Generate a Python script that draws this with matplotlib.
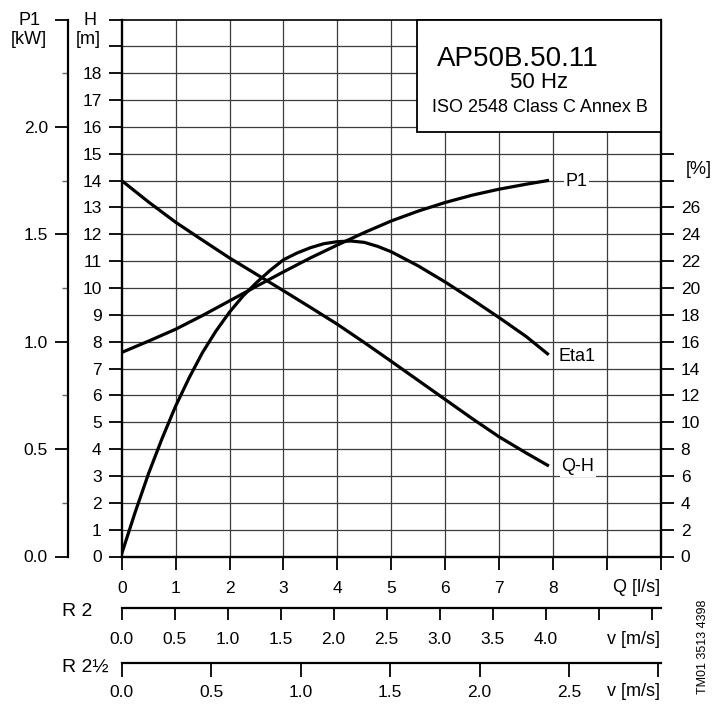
import numpy as np
import matplotlib
matplotlib.use("Agg")
from matplotlib import pyplot as plt
from matplotlib.patches import Rectangle

plt.rcParams['font.family'] = ['Liberation Sans', 'DejaVu Sans']

# Q-H curve, head in m
q_h = [0, 0.5, 1, 1.5, 2, 2.5, 3, 3.5, 4, 4.5, 5, 5.5, 6, 6.5, 7, 7.5, 7.9]
head = [14.0, 13.2, 12.45, 11.78, 11.12, 10.51, 9.9, 9.28, 8.65, 7.97, 7.27, 6.56, 5.85, 5.14, 4.46, 3.86, 3.4]

# P1 curve, kW
q_p = [0, 0.5, 1, 1.5, 2, 2.5, 3, 3.5, 4, 4.5, 5, 5.5, 6, 6.5, 7, 7.5, 7.9]
p1 = [0.95, 1.003, 1.058, 1.122, 1.19, 1.258, 1.325, 1.39, 1.45, 1.508, 1.562, 1.608, 1.648, 1.682, 1.71, 1.733, 1.75]

# Eta1 curve, %
q_e = [0, 0.25, 0.5, 0.75, 1, 1.25, 1.5, 1.75, 2, 2.25, 2.5, 2.75, 3, 3.25, 3.5, 3.75, 4, 4.25,
       4.5, 4.75, 5, 5.5, 6, 6.5, 7, 7.5, 7.9]
eta = [0.2, 3.3, 6.2, 8.8, 11.2, 13.3, 15.2, 16.8, 18.2, 19.4, 20.4, 21.3, 22.1, 22.6, 23.0, 23.3,
       23.45, 23.5, 23.4, 23.1, 22.7, 21.65, 20.45, 19.15, 17.8, 16.4, 15.1]

q_ticks = list(range(11))
q_labels = [str(i) for i in range(9)] + ['', '']
h_ticks = list(range(21))
h_labels = [str(i) for i in range(19)] + ['', '']
p_ticks = [0, 0.5, 1.0, 1.5, 2.0, 2.5]
p_labels = ['0.0', '0.5', '1.0', '1.5', '2.0', '']
p_minor = [0.25, 0.75, 1.25, 1.75, 2.25]
e_ticks = list(range(0, 31, 2))
e_labels = [str(i) for i in range(0, 27, 2)] + ['', '']

# velocity scales: v at Q = 10 l/s
v_r2_max = 5.0 * 10 / 9.83
v_r2_ticks = [0.0, 0.5, 1.0, 1.5, 2.0, 2.5, 3.0, 3.5, 4.0, 4.5, 5.0]
v_r2_labels = ['0.0', '0.5', '1.0', '1.5', '2.0', '2.5', '3.0', '3.5', '4.0', '', '']
v_r25_max = 3.0 * 10 / 9.958
v_r25_ticks = [0.0, 0.5, 1.0, 1.5, 2.0, 2.5, 3.0]
v_r25_labels = ['0.0', '0.5', '1.0', '1.5', '2.0', '2.5', '']

W, H = 714, 704
def fx(px):
    return px / W
def fy(py):
    return 1 - py / H

TS = 12.5   # tick label size
CS = 13     # caption size

fig = plt.figure(figsize=(W / 100, H / 100), dpi=100)
L, R, T, B = 121.7, 660.7, 19.5, 556.5
ax = fig.add_axes([fx(L), fy(B), fx(R) - fx(L), fy(T) - fy(B)])
ax.set_xlim(0, 10)
ax.set_ylim(0, 20)

for i in range(1, 10):
    ax.axvline(i, color='#3c3c3c', lw=0.9, zorder=1)
for j in range(1, 20):
    ax.axhline(j, color='#3c3c3c', lw=0.9, zorder=1)

for s in ['left', 'bottom', 'right']:
    ax.spines[s].set_linewidth(1.7)
ax.spines['top'].set_linewidth(1.2)

ax.set_xticks(q_ticks)
ax.set_xticklabels(q_labels)
ax.set_yticks(h_ticks)
ax.set_yticklabels(h_labels)
ax.tick_params(axis='both', direction='out', length=9.4, width=1.3, labelsize=TS)
ax.tick_params(axis='x', pad=8)
ax.tick_params(axis='y', pad=5)

ax.plot(q_h, head, color='black', lw=2.3, zorder=3)

# P1 axis on the left
ax_p = ax.twinx()
ax_p.set_ylim(0, 2.5)
for s in ['right', 'top', 'bottom']:
    ax_p.spines[s].set_visible(False)
ax_p.spines['left'].set_visible(True)
ax_p.spines['left'].set_position(('outward', 38.7))
ax_p.spines['left'].set_linewidth(1.6)
ax_p.yaxis.tick_left()
ax_p.set_yticks(p_ticks)
ax_p.set_yticklabels(p_labels)
ax_p.set_yticks(p_minor, minor=True)
ax_p.tick_params(axis='y', which='major', direction='out', length=9.4, width=1.3,
                 labelsize=TS, pad=5)
ax_p.tick_params(axis='y', which='minor', direction='out', length=4.5, width=1.0,
                 color='#666666')
ax_p.plot(q_p, p1, color='black', lw=2.3)

# efficiency axis on the right
ax_e = ax.twinx()
ax_e.set_ylim(0, 40)
for s in ax_e.spines.values():
    s.set_visible(False)
ax_e.set_yticks(e_ticks)
ax_e.set_yticklabels(e_labels)
ax_e.tick_params(axis='y', direction='out', length=9.4, width=1.3, labelsize=TS, pad=5)
ax_e.plot(q_e, eta, color='black', lw=2.3)

# title box
ax.add_patch(Rectangle((5.48, 15.8), 4.52, 4.2, facecolor='white', edgecolor='black',
                       lw=1.3, zorder=4, clip_on=False))
ax.text(5.85, 18.28, 'AP50B.50.11', fontsize=20, va='baseline', zorder=5)
ax.text(7.20, 17.46, '50 Hz', fontsize=16, va='baseline', zorder=5)
ax.text(5.75, 16.57, 'ISO 2548 Class C Annex B', fontsize=13, va='baseline', zorder=5)

# curve labels
lab_box = dict(facecolor='white', edgecolor='none', pad=1)
ax.text(8.24, 13.98, 'P1', fontsize=CS, va='center', bbox=lab_box, zorder=5)
ax.text(8.11, 7.44, 'Eta1', fontsize=CS, va='center', bbox=lab_box, zorder=5)
ax.text(8.16, 3.34, 'Q-H', fontsize=CS, va='center', bbox=lab_box, zorder=5)

# axis captions
fig.text(fx(40), fy(20.7), 'P1', fontsize=CS, ha='right', va='center')
fig.text(fx(46.7), fy(39), '[kW]', fontsize=CS, ha='right', va='center')
fig.text(fx(97), fy(20.7), 'H', fontsize=CS, ha='right', va='center')
fig.text(fx(101), fy(39), '[m]', fontsize=CS, ha='right', va='center')
fig.text(fx(686), fy(169), '[%]', fontsize=CS, ha='left', va='center')
fig.text(fx(660), fy(587), 'Q [l/s]', fontsize=CS, ha='right', va='center')

# velocity scales
def vel_axis(y_px, vmax, ticks, labels, tlen, pad):
    a = fig.add_axes([fx(L), fy(y_px), fx(R) - fx(L), 1e-4])
    a.set_xlim(0, vmax)
    for s in ['left', 'right', 'top']:
        a.spines[s].set_visible(False)
    a.spines['bottom'].set_linewidth(1.6)
    a.set_yticks([])
    a.set_xticks(ticks)
    a.set_xticklabels(labels)
    a.tick_params(axis='x', direction='out', length=tlen, width=1.3, labelsize=TS, pad=pad)
    a.patch.set_visible(False)
    return a

vel_axis(608, v_r2_max, v_r2_ticks, v_r2_labels, 8.6, 8.5)
vel_axis(663, v_r25_max, v_r25_ticks, v_r25_labels, 10, 6)

fig.text(fx(660), fy(639), 'v [m/s]', fontsize=CS, ha='right', va='center')
fig.text(fx(660), fy(692), 'v [m/s]', fontsize=CS, ha='right', va='center')
fig.text(fx(62), fy(612), 'R 2', fontsize=14, ha='left', va='center')
fig.text(fx(62), fy(667), 'R 2½', fontsize=14, ha='left', va='center')
fig.text(fx(703), fy(647), 'TM01 3513 4398', fontsize=9, rotation=90, ha='center', va='center')

fig.savefig('out.png', dpi=100)
